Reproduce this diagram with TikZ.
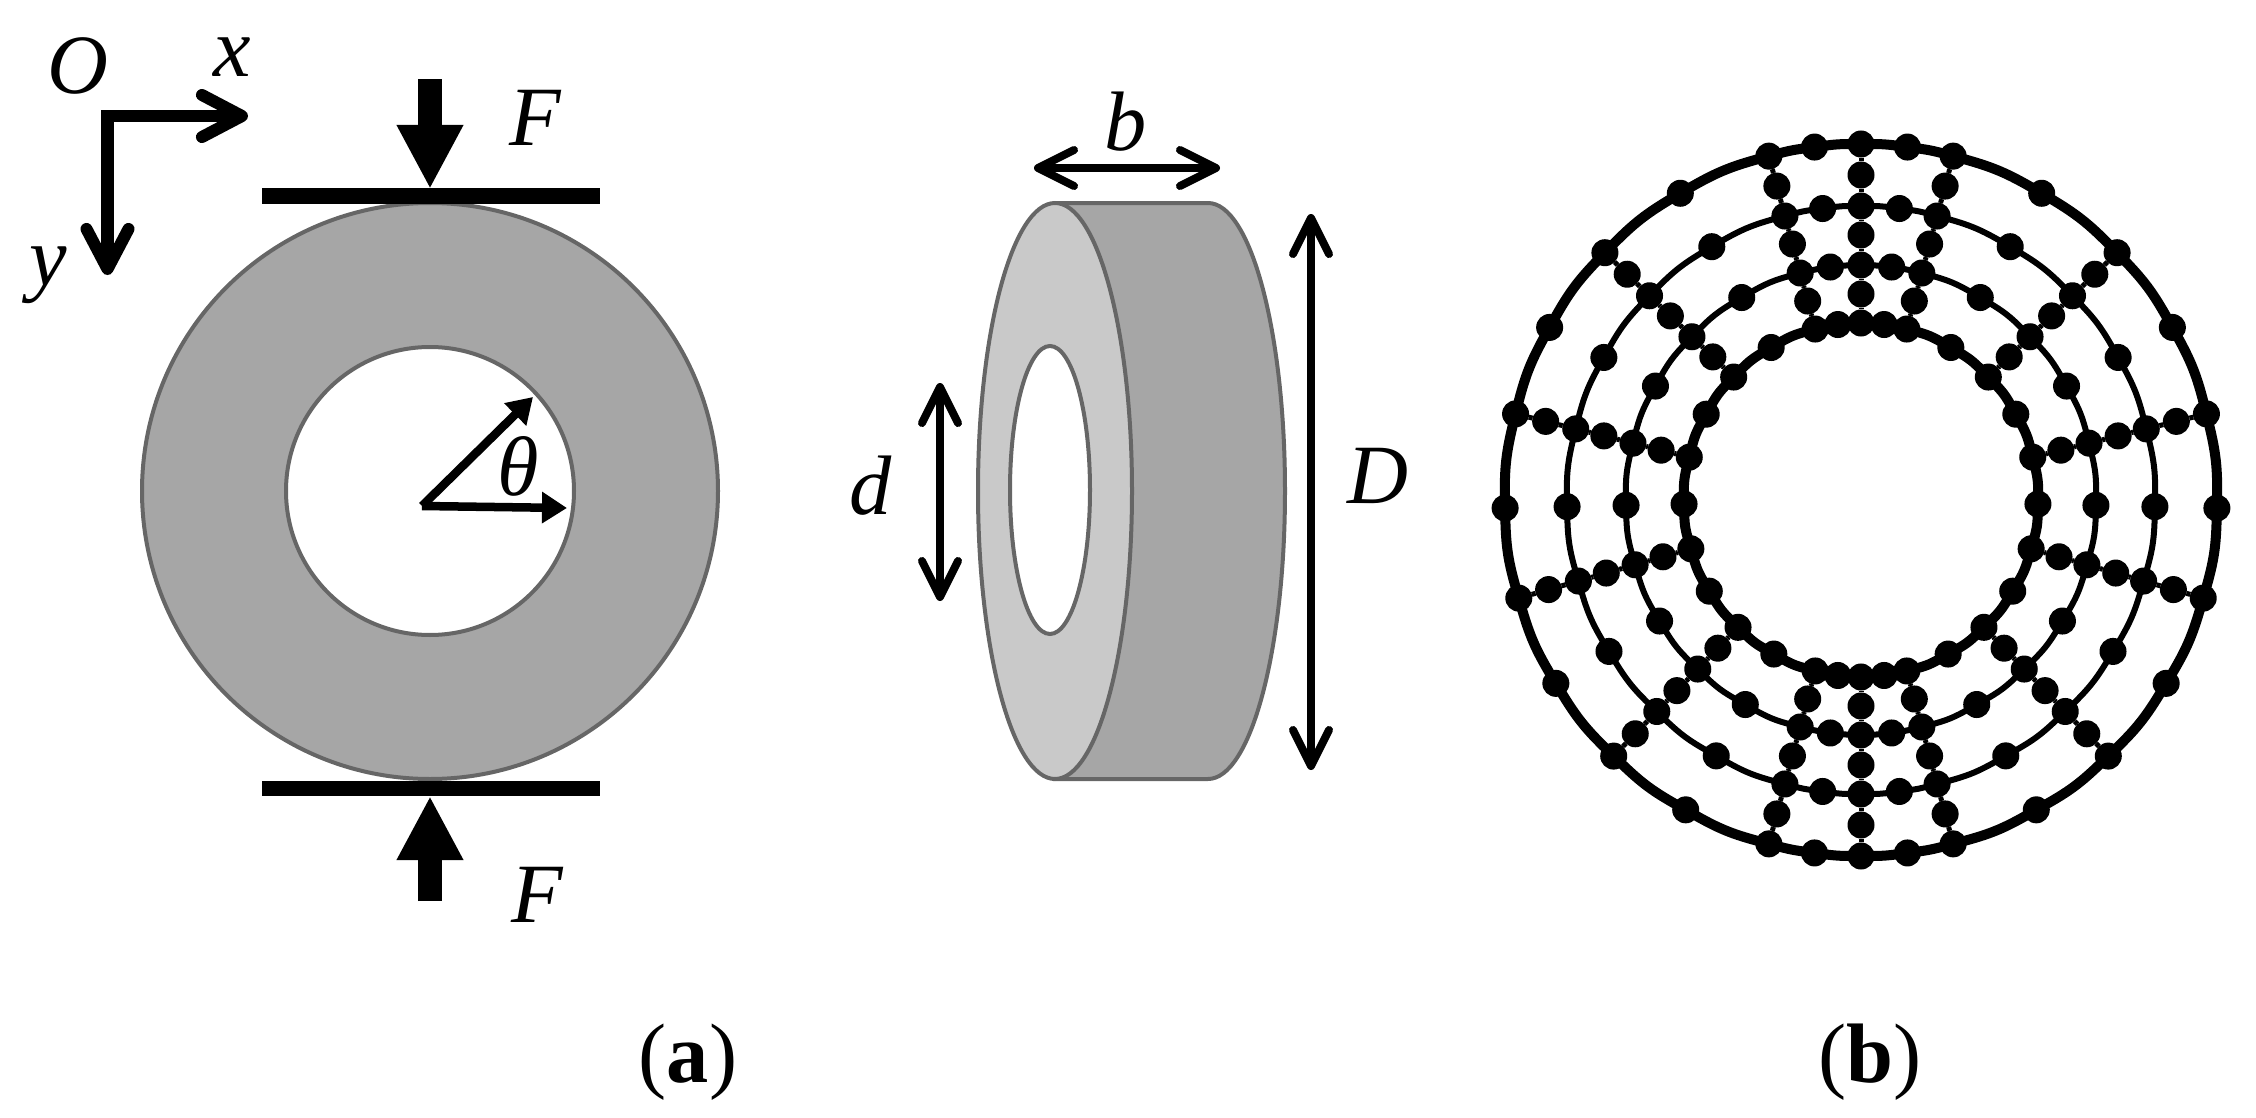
\documentclass[tikz,border=0pt]{standalone}
\usepackage{fontspec}
\setmainfont{Liberation Serif}
\usetikzlibrary{arrows.meta}

\definecolor{ringgray}{HTML}{A6A6A6}
\definecolor{facegray}{HTML}{C9C9C9}
\definecolor{edgegray}{HTML}{666666}

\begin{document}
\begin{tikzpicture}[x=0.01cm,y=-0.01cm]
	\tikzset{vertex/.style = {shape=circle,fill=black,inner sep=0pt,outer sep=0pt,minimum size=0.27cm}}
	\tikzset{ringthick/.style = {line width=0.1cm,shorten <=-0.06cm,shorten >=-0.06cm}}
	\tikzset{ringthin/.style = {line width=0.06cm,shorten <=-0.06cm,shorten >=-0.06cm}}
	\tikzset{radial/.style = {line width=0.05cm}}
	\tikzset{body/.style = {draw=edgegray,line width=0.04cm}}
	\tikzset{lab/.style = {inner sep=0pt,font=\fontsize{24}{28}\selectfont\itshape}}
	\tikzset{figcap/.style = {inner sep=0pt,font=\fontsize{24}{28}\selectfont}}
	\tikzset{axis/.style = {line width=0.12cm,-{Straight Barb[round,length=0.40cm,width=0.42cm]}}}
	\tikzset{dim/.style = {line width=0.08cm,{Straight Barb[round,length=0.36cm,width=0.36cm]}-{Straight Barb[round,length=0.36cm,width=0.36cm]}}}
	\tikzset{force/.style = {line width=0.23cm,-{Triangle[length=0.64cm,width=0.62cm]}}}
	\tikzset{plate/.style = {line width=0.15cm}}
	\tikzset{angarrow/.style = {line width=0.085cm,-{Triangle[length=0.25cm,width=0.30cm]}}}

	\useasboundingbox (0,0) rectangle (2256,1118);

	% ring, front view
	\fill[ringgray,even odd rule] (430,491) circle (288) (430,491) circle (144);
	\draw[body] (430,491) circle (288);
	\draw[body] (430,491) circle (144);

	\coordinate (ptopl) at (262,196);
	\coordinate (ptopr) at (600,196);
	\coordinate (pbotl) at (262,788);
	\coordinate (pbotr) at (600,788);
	\draw[plate] (ptopl) -- (ptopr);
	\draw[plate] (pbotl) -- (pbotr);

	\coordinate (ftop) at (430,79);
	\coordinate (ftoptip) at (430,189);
	\coordinate (fbot) at (430,901);
	\coordinate (fbottip) at (430,796);
	\draw[force] (ftop) -- (ftoptip);
	\draw[force] (fbot) -- (fbottip);

	\coordinate (orig) at (107.5,110);
	\coordinate (xorig) at (102,116);
	\coordinate (xtip) at (248,116);
	\coordinate (ytip) at (107.5,275);
	\draw[axis] (xorig) -- (xtip);
	\draw[axis] (orig) -- (ytip);

	\coordinate (cen) at (422,506);
	\coordinate (rtip) at (533,397);
	\coordinate (atip) at (567,508);
	\draw[angarrow] (cen) -- (rtip);
	\draw[angarrow] (cen) -- (atip);

	\node[lab] (lo) at (78,66) {O};
	\node[lab] (lx) at (232,57) {x};
	\node[lab] (ly) at (48,275) {y};
	\node[lab] (lf1) at (535,118) {F};
	\node[lab] (lf2) at (537,895) {F};
	\node[lab] (lt) at (518,466) {θ};

	% ring, side view
	\filldraw[body,fill=ringgray] (1055,203) -- (1208,203) arc[start angle=-90,end angle=90,x radius=77,y radius=288] -- (1055,779) -- cycle;
	\filldraw[body,fill=facegray] (1055,491) ellipse (77 and 288);
	\filldraw[body,fill=white] (1050,490) ellipse (40 and 144);

	\coordinate (bl) at (1034,168);
	\coordinate (br) at (1220,168);
	\coordinate (dt) at (940,383);
	\coordinate (db) at (940,601);
	\coordinate (Dt) at (1311,214);
	\coordinate (Db) at (1311,770);
	\draw[dim] (bl) -- (br);
	\draw[dim] (dt) -- (db);
	\draw[dim] (Dt) -- (Db);

	\node[lab] (lb) at (1126,122) {b};
	\node[lab] (ld) at (871,486) {d};
	\node[lab] (lD) at (1378,476) {D};

	% mesh
	\foreach \ang [count=\k from 0] in {0,7.5,15,30.5,46,61,76,91.3,106,121,136,150.5,165,172.5,180,187.5,195,209.5,224,239,254,268.7,284,299,314,329.5,345,352.5} {
		\foreach \rad [count=\ringno] in {356,294,235,177} {
			\node[vertex] (n\ringno-\k) at ({1861+\rad*sin(\ang)},{500-\rad*cos(\ang)}) {};
		}
	}
	\foreach \ang/\k in {0/0,15/2,46/4,76/6,106/8,136/10,165/12,180/14,195/16,224/18,254/20,284/22,314/24,345/26} {
		\foreach \rad [count=\ringno] in {325,265,206} {
			\node[vertex] (m\ringno-\k) at ({1861+\rad*sin(\ang)},{500-\rad*cos(\ang)}) {};
		}
		\draw[radial] (n1-\k) -- (m1-\k) -- (n2-\k) -- (m2-\k) -- (n3-\k) -- (m3-\k) -- (n4-\k);
	}
	\foreach \ringno/\ringstyle in {1/ringthick,2/ringthin,3/ringthin,4/ringthick} {
		\foreach \k/\b [evaluate=\k as \m using {int(mod(\k+1,28))}] in {0/3.75,1/3.75,2/7.5,3/7.5,4/7.5,5/7.5,6/7.5,7/7.5,8/7.5,9/7.5,10/7.5,11/7.5,12/3.75,13/3.75,14/3.75,15/3.75,16/7.5,17/7.5,18/7.5,19/7.5,20/7.5,21/7.5,22/7.5,23/7.5,24/7.5,25/7.5,26/3.75,27/3.75} {
			\draw[\ringstyle] (n\ringno-\k) to[bend left=\b] (n\ringno-\m);
		}
	}

	\node[figcap] (capa) at (688,1062) {(\textbf{a})};
	\node[figcap] (capb) at (1870,1062) {(\textbf{b})};
\end{tikzpicture}
\end{document}
